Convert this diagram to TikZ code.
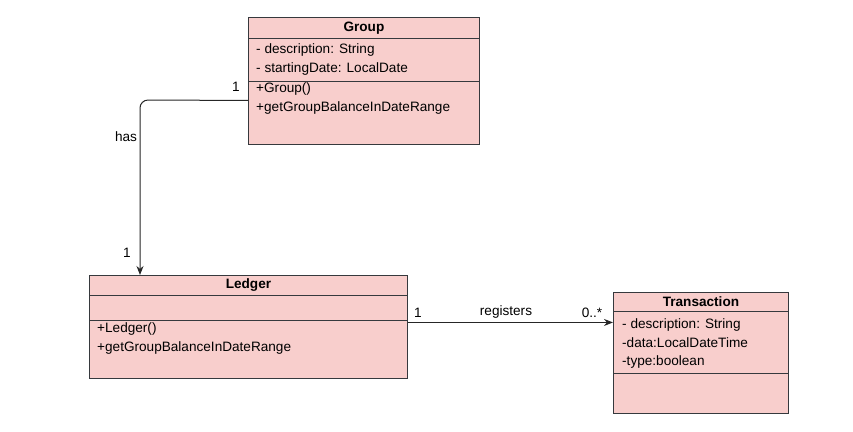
\documentclass[tikz,border=0pt]{standalone}
\usepackage{fontspec}
\setmainfont{Liberation Sans}
\usetikzlibrary{positioning, arrows.meta}
\definecolor{umlfill}{HTML}{F8CECC}
\definecolor{umlline}{HTML}{36393D}
\tikzset{
    >={Stealth[length=9pt, width=7pt]},
    umlpart/.style={draw=umlline, fill=umlfill, line width=0.9pt, inner sep=0pt, anchor=north west},
    umltitle/.style={umlpart, font=\fontsize{13.6}{15}\selectfont\bfseries},
    umltext/.style={anchor=north west, inner sep=0pt, align=left, font=\fontsize{13.6}{18.5}\selectfont},
    assoc/.style={->, line width=1pt, draw=black!85, rounded corners=8pt},
    multlabel/.style={inner sep=1pt, font=\fontsize{13.6}{15}\selectfont}
}

\begin{document}
\begin{tikzpicture}[x=1pt, y=-1pt]
\useasboundingbox (0,0) rectangle (853,431);

% Group class
\node[umlpart, minimum width=231pt, minimum height=127pt] (group) at (248,17) {};
\node[umltitle, minimum width=231pt, minimum height=21pt] (grouptitle) at (248,17) {Group};
\node[umlpart, minimum width=231pt, minimum height=43pt] (groupattr) at (248,38) {};
\node[umltext] (groupattrtext) at (256,43.5) {- description: String\\- startingDate: LocalDate};
\node[umltext] (groupoptext) at (256,82.5) {+Group()\\+getGroupBalanceInDateRange};

% Ledger class
\node[umlpart, minimum width=318pt, minimum height=103pt] (ledger) at (89,275) {};
\node[umltitle, minimum width=318pt, minimum height=20pt] (ledgertitle) at (89,275) {Ledger};
\node[umlpart, minimum width=318pt, minimum height=25pt] (ledgerattr) at (89,295) {};
\node[umltext] (ledgeroptext) at (97,322.5) {+Ledger()\\+getGroupBalanceInDateRange};

% Transaction class
\node[umlpart, minimum width=175pt, minimum height=121pt] (trans) at (613,292) {};
\node[umltitle, minimum width=175pt, minimum height=19pt] (transtitle) at (613,292) {Transaction};
\node[umlpart, minimum width=175pt, minimum height=62pt] (transattr) at (613,311) {};
\node[umltext] (transattrtext) at (622,318.5) {- description: String\\-data:LocalDateTime\\-type:boolean};

% Associations
\coordinate (hasbend) at (140,100);
\draw[assoc] ([yshift=-19.5pt]group.west) -- (hasbend) -- (hasbend |- ledger.north);
\draw[assoc] ([yshift=4.5pt]ledger.east) -- ([yshift=4.5pt]ledger.east -| trans.west);

% Labels
\node[multlabel] (hasgroup) at (236,87) {1};
\node[multlabel] (hasname) at (126,137) {has};
\node[multlabel] (hasledger) at (127,253) {1};
\node[multlabel] (regledger) at (418,313) {1};
\node[multlabel] (regname) at (506,312) {registers};
\node[multlabel] (regtrans) at (592,313) {0..*};

\end{tikzpicture}
\end{document}
